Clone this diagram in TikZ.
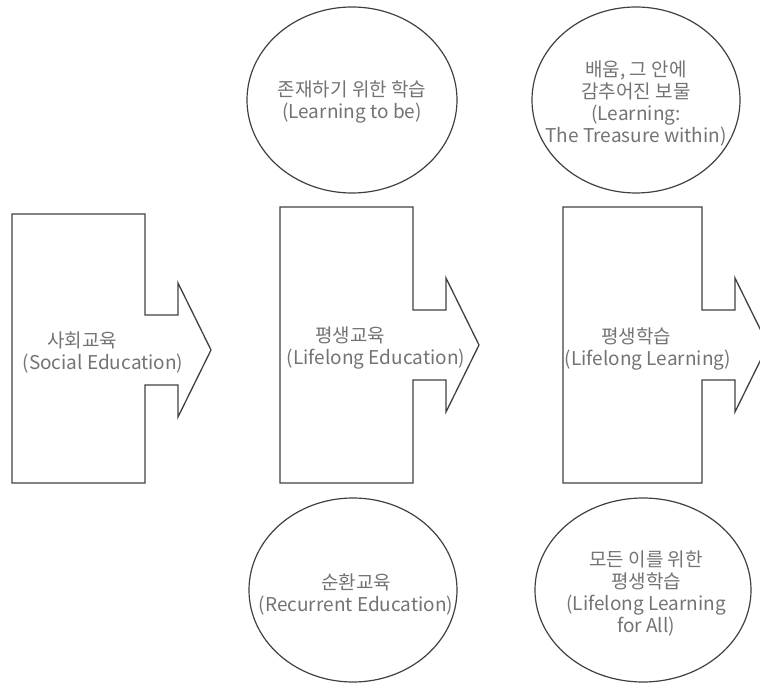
\documentclass[tikz,border=0pt]{standalone}
\usepackage{fontspec}
\newfontfamily\krfont{Noto Sans CJK KR}
\usetikzlibrary{shapes.geometric}
\begin{document}
\begin{tikzpicture}[
        x=1pt, y=-1pt,
        callout/.style={draw=black!75, line width=1.3pt, line join=miter},
        bubble/.style={ellipse, draw=black!75, line width=1.2pt, inner sep=0pt},
        txt/.style={text=black!55, font=\krfont\fontsize{19}{22}\selectfont, align=center, inner sep=0pt}
    ]
    \clip (0,0) rectangle (760,684);

    % block arrows: left / top / body right / head shift
    \foreach \l/\t/\r/\d in {12/214/145/5, 280/207/413/0, 563/207/702/0}
        \draw[callout] (\l,\t) -- (\r,\t) -- (\r,310+\d) -- (\r+33,310+\d) -- (\r+33,278+\d)
            -- (\r+66,345+\d) -- (\r+33,412+\d) -- (\r+33,380+\d) -- (\r,380+\d)
            -- (\r,483) -- (\l,483) -- cycle;

    \node[txt] (social) at (103,352.5) {\hspace*{-42pt}사회교육\\(Social Education)};
    \node[txt] (lifeedu) at (376,348) {\hspace*{-52pt}평생교육\\(Lifelong Education)};
    \node[txt] (lifelearn) at (648,348.5) {\hspace*{-24pt}평생학습\\(Lifelong Learning)};

    % bubbles above and below
    \node[bubble, minimum width=210pt, minimum height=186pt] (tobe) at (352,100) {};
    \node[bubble, minimum width=208pt, minimum height=186pt] (treasure) at (636,100) {};
    \node[bubble, minimum width=208pt, minimum height=184pt] (recurrent) at (353,590) {};
    \node[bubble, minimum width=216pt, minimum height=184pt] (forall) at (643,590) {};

    \node[txt] (tobe text) at (352,101.5) {존재하기 위한 학습\\(Learning to be)};
    \node[txt] (treasure text) at (636,104) {배움, 그 안에\\감추어진 보물\\(Learning:\\The Treasure within)};
    \node[txt] (recurrent text) at (356,594) {순환교육\\(Recurrent Education)};
    \node[txt] (forall text) at (646,593.5) {모든 이를 위한\\평생학습\\(Lifelong Learning\\for All)};
\end{tikzpicture}
\end{document}
